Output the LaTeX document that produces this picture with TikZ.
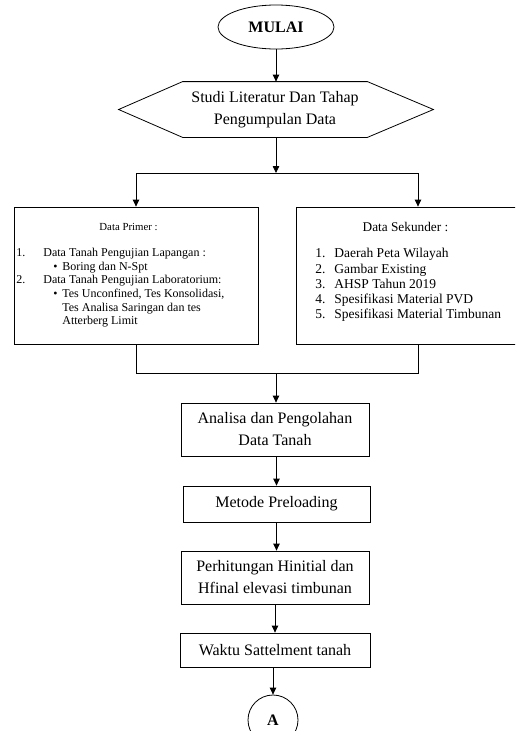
\documentclass[tikz,border=0pt]{standalone}
\usepackage{fontspec}
\setmainfont{Liberation Serif}
\usetikzlibrary{arrows.meta,shapes.geometric}

\tikzset{
  proses/.style={draw, rectangle, inner sep=0pt, align=center,
    font=\fontsize{16}{22}\selectfont},
  isi/.style={anchor=north west, inner sep=0pt, align=left,
    font=\fontsize{12}{13.6}\selectfont},
  panah/.style={-{Triangle[length=7pt,width=6.5pt]}},
}
\newcommand{\nomor}[2]{\makebox[#1][l]{#2}}

\begin{document}
\begin{tikzpicture}[x=1pt,y=-1pt,line width=0.8pt]
  \useasboundingbox (0,0) rectangle (515,731);
  \clip (0,0) rectangle (515,731);

  % awal
  \node[draw, ellipse, minimum width=116pt, minimum height=44pt, inner sep=0pt,
        font=\fontsize{16}{16}\selectfont\bfseries] (mulai) at (276,27) {MULAI};

  % studi literatur (heksagon)
  \node[inner sep=0pt, minimum width=184pt, minimum height=55pt, align=center,
        font=\fontsize{16}{22}\selectfont] (studi) at (275,109.5)
        {Studi Literatur Dan Tahap\\Pengumpulan Data};
  \draw (studi.north west) -- (studi.north east) -- ([xshift=66pt]studi.east)
     -- (studi.south east) -- (studi.south west) -- ([xshift=-64pt]studi.west)
     -- cycle;

  % data primer dan sekunder
  \node[draw, minimum width=244pt, minimum height=137pt, inner sep=0pt] (primer) at (136,275.5) {};
  \node[draw, minimum width=244pt, minimum height=137pt, inner sep=0pt] (sekunder) at (418,275.5) {};

  \node[font=\fontsize{10.8}{11}\selectfont, inner sep=0pt] (primerjudul) at (128.5,227) {Data Primer :};
  \node[isi] (primerisi) at (16,248)
    {\nomor{27pt}{1.}Data Tanah Pengujian Lapangan :\\
     \hspace*{37pt}\nomor{9pt}{\textbullet}Boring dan N-Spt\\
     \nomor{27pt}{2.}Data Tanah Pengujian Laboratorium:\\
     \hspace*{37pt}\nomor{9pt}{\textbullet}Tes Unconfined, Tes Konsolidasi,\\
     \hspace*{46pt}Tes Analisa Saringan dan tes\\
     \hspace*{46pt}Atterberg Limit};

  \node[font=\fontsize{13.3}{14}\selectfont, inner sep=0pt] (sekunderjudul) at (405.5,227) {Data Sekunder :};
  \node[isi, font=\fontsize{13.5}{15.3}\selectfont] (sekunderisi) at (315,248)
    {\nomor{19pt}{1.}Daerah Peta Wilayah\\
     \nomor{19pt}{2.}Gambar Existing\\
     \nomor{19pt}{3.}AHSP Tahun 2019\\
     \nomor{19pt}{4.}Spesifikasi Material PVD\\
     \nomor{19pt}{5.}Spesifikasi Material Timbunan};

  % proses
  \node[proses, minimum width=188pt, minimum height=53pt] (analisa) at (275,429.5)
    {Analisa dan Pengolahan\\Data Tanah};
  \node[proses, minimum width=187pt, minimum height=36pt] (metode) at (276.5,504)
    {Metode Preloading};
  \node[proses, minimum width=188pt, minimum height=53pt] (hitung) at (275,577.5)
    {Perhitungan Hinitial dan\\Hfinal elevasi timbunan};
  \node[proses, minimum width=190pt, minimum height=34pt] (waktu) at (275,650)
    {Waktu Sattelment tanah};
  \node[draw, circle, minimum size=50pt, inner sep=0pt,
        font=\fontsize{16}{16}\selectfont\bfseries] (a) at (273,720) {A};

  % percabangan
  \coordinate (cabang) at (276,173);
  \coordinate (gabung) at (276,373);

  \draw[panah] (mulai) -- (studi.north -| mulai);
  \draw[panah] (studi.south -| cabang) -- (cabang);
  \draw (cabang -| primer.north) -- (cabang -| sekunder.north);
  \draw[panah] (cabang -| primer.north) -- (primer.north);
  \draw[panah] (cabang -| sekunder.north) -- (sekunder.north);
  \draw (primer.south) -- (gabung -| primer.south)
     -- (gabung -| sekunder.south) -- (sekunder.south);
  \draw[panah] (gabung) -- (gabung |- analisa.north);
  \draw[panah] (analisa.south -| metode) -- (metode.north);
  \draw[panah] (metode.south) -- (hitung.north -| metode);
  \draw[panah] (hitung.south -| waktu) -- (waktu.north);
  \draw[panah] (waktu.south -| a) -- (a.north);
\end{tikzpicture}
\end{document}
